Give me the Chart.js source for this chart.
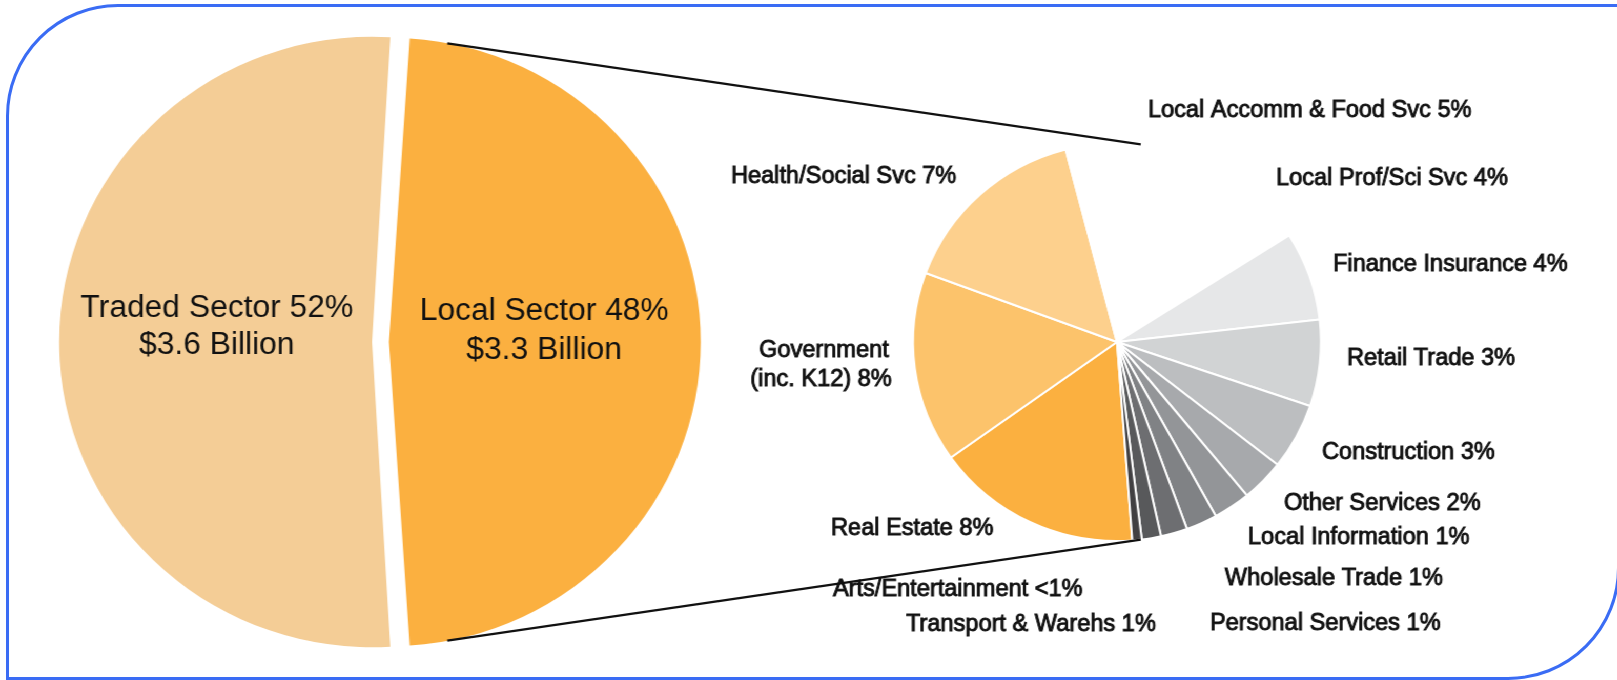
<!DOCTYPE html>
<html>
<head>
<meta charset="utf-8">
<script src="https://cdn.jsdelivr.net/npm/chart.js@4.4.1/dist/chart.umd.min.js"></script>
<style>
  html, body { margin: 0; padding: 0; background: #fff; }
  #page { position: relative; width: 1617px; height: 680px; overflow: hidden; }
  #frame {
    position: absolute; left: 6px; top: 4px; width: 1614px; height: 676px;
    box-sizing: border-box; border: 3px solid #3a6cf4;
    border-top-left-radius: 112px; border-bottom-right-radius: 112px;
  }
  /* the source picture is a little wider than tall, so the plot is stretched */
  #plot { position: absolute; left: 0; top: 0; width: 1578px; height: 680px;
          transform: scaleX(1.025); transform-origin: 0 0; }
  canvas { position: absolute; left: 0; top: 0; }
</style>
</head>
<body>
<div id="page">
  <div id="frame"></div>
  <div id="plot">
    <canvas id="big" width="1578" height="680"></canvas>
    <canvas id="small" width="1578" height="680"></canvas>
  </div>
</div>
<script>
(function () {
  'use strict';

  // big pie: local vs traded share of total
  var sectorNames = ['Local Sector', 'Traded Sector'];
  var sectorShare = [48, 52];
  var sectorDollars = ['$3.3 Billion', '$3.6 Billion'];

  // breakdown of the local sector (share of total)
  var localNames = [
    'Real Estate', 'Government (inc. K12)', 'Health/Social Svc', 'Local Accomm & Food Svc',
    'Local Prof/Sci Svc', 'Finance Insurance', 'Retail Trade', 'Construction',
    'Other Services', 'Local Information', 'Wholesale Trade', 'Personal Services',
    'Transport & Warehs', 'Arts/Entertainment'
  ];
  var localShare = [7.84, 7.43, 7.35, 5.41, 4.21, 3.45, 3.37, 2.57, 1.65, 1.41, 1.19, 1.01, 0.73, 0.36];
  var localTags = ['8%', '8%', '7%', '5%', '4%', '4%', '3%', '3%', '2%', '1%', '1%', '1%', '1%', '<1%'];

  var colors = {
    sector: ['#fbb040', '#f4cd96'],
    local: ['#fbb040', '#fcc36b', '#fdd08d', '#ffffff', '#ffffff', '#e6e7e8', '#d1d3d4',
            '#bcbec0', '#a7a9ac', '#939598', '#808285', '#6d6e71', '#58595b', '#414042'],
    text: '#111111',
    connector: '#111111'
  };

  var font = '"Liberation Sans", Arial, sans-serif';
  var SX = 1.025;          // horizontal stretch of #plot
  var W = 1578;            // canvas width before stretch

  // label anchors for the small pie in page pixels: [left x, middle y]
  var labelPos = [
    [831, 529], [824, 351], [731, 177], [1148, 111],
    [1276, 179], [1333, 265], [1347, 359], [1322, 453],
    [1284, 504], [1248, 538], [1225, 579], [1210, 624],
    [906, 625], [833, 590]
  ];
  // text shift per big slice: [dy line 1, dy line 2]
  var sectorTextDy = [[-31, 8], [-34, 3]];

  function sum(arr) {
    return arr.reduce(function (a, b) { return a + b; }, 0);
  }

  var bigCx = 380.5 / SX;
  var bigChart = new Chart(document.getElementById('big'), {
    type: 'pie',
    data: {
      labels: sectorNames,
      datasets: [{
        data: sectorShare,
        backgroundColor: colors.sector,
        borderWidth: 0,
        offset: 33
      }]
    },
    options: {
      responsive: false,
      animation: false,
      devicePixelRatio: 1,
      rotation: 90 - 180 * sectorShare[0] / sum(sectorShare),
      radius: 297,
      layout: { padding: { left: 0, right: W - 2 * bigCx, top: 4, bottom: 0 } },
      plugins: { legend: { display: false }, tooltip: { enabled: false } }
    },
    plugins: [{
      id: 'sectorText',
      afterDraw: function (chart) {
        var ctx = chart.ctx;
        var arcs = chart.getDatasetMeta(0).data;
        ctx.save();
        ctx.fillStyle = colors.text;
        ctx.textAlign = 'center';
        ctx.textBaseline = 'middle';
        ctx.font = '31px ' + font;
        arcs.forEach(function (arc, i) {
          var mid = (arc.startAngle + arc.endAngle) / 2;
          var d = arc.options.offset / 4 + arc.outerRadius * 0.51;
          var cx = arc.x + Math.cos(mid) * d;
          var cy = arc.y + Math.sin(mid) * d;
          ctx.fillText(sectorNames[i] + ' ' + sectorShare[i] + '%', cx, cy + sectorTextDy[i][0]);
          ctx.fillText(sectorDollars[i], cx, cy + sectorTextDy[i][1]);
        });
        ctx.restore();
      }
    }]
  });

  var smallCx = 1117 / SX;
  new Chart(document.getElementById('small'), {
    type: 'pie',
    data: {
      labels: localNames,
      datasets: [{
        data: localShare,
        backgroundColor: colors.local,
        borderColor: '#ffffff',
        borderWidth: 2
      }]
    },
    options: {
      responsive: false,
      animation: false,
      devicePixelRatio: 1,
      rotation: 175.7,
      radius: 199,
      layout: { padding: { left: 2 * smallCx - W, right: 0, top: 4, bottom: 0 } },
      plugins: { legend: { display: false }, tooltip: { enabled: false } }
    },
    plugins: [{
      id: 'connectAndLabel',
      afterDraw: function (chart) {
        var ctx = chart.ctx;
        var small = chart.getDatasetMeta(0).data[0];
        var local = bigChart.getDatasetMeta(0).data[0];
        var lr = local.outerRadius + 7;
        var lx = local.x + local.options.offset / 4;
        var ly = local.y;
        var a1 = 79.2 * Math.PI / 180;
        var a2 = 83.3 * Math.PI / 180;

        ctx.save();
        ctx.strokeStyle = colors.connector;
        ctx.lineWidth = 2.4;
        [-1, 1].forEach(function (s) {
          ctx.beginPath();
          ctx.moveTo(lx + Math.cos(a1) * lr, ly + s * Math.sin(a1) * lr);
          ctx.lineTo(small.x + Math.cos(a2) * small.outerRadius, small.y + s * Math.sin(a2) * small.outerRadius);
          ctx.stroke();
        });

        ctx.fillStyle = colors.text;
        ctx.strokeStyle = colors.text;
        ctx.lineWidth = 0.9;
        ctx.textBaseline = 'middle';
        ctx.font = '23px ' + font;

        function put(txt, x, y) {
          ctx.fillText(txt, x / SX, y);
          ctx.strokeText(txt, x / SX, y);
        }

        localNames.forEach(function (name, i) {
          var p = labelPos[i];
          if (i === 1) {
            ctx.textAlign = 'center';
            put('Government', p[0], p[1]);
            put('(inc. K12) ' + localTags[i], p[0] - 3, p[1] + 29);
            return;
          }
          ctx.textAlign = 'left';
          put(name + ' ' + localTags[i], p[0], p[1]);
        });
        ctx.restore();
      }
    }]
  });
})();
</script>
</body>
</html>
